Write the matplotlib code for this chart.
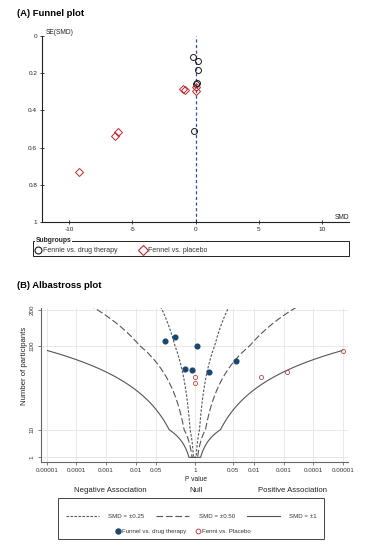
import numpy as np
import matplotlib
matplotlib.use('Agg')
import matplotlib.pyplot as plt
from matplotlib.lines import Line2D
from matplotlib.patches import Rectangle
from math import erfc, sqrt

plt.rcParams['font.family'] = ['Liberation Sans', 'DejaVu Sans']
plt.rcParams['axes.unicode_minus'] = False

W, H = 369, 550  # 像素尺寸

# ---- (A) funnel plot data ----
drug_smd = [-0.18, 0.21, 0.21, 0.13, 0.0, -0.13]
drug_se = [0.111, 0.134, 0.181, 0.254, 0.26, 0.509]
plac_smd = [-1.0, -0.85, 0.0, 0.05, -6.4, -6.1, -9.2]
plac_se = [0.285, 0.29, 0.276, 0.298, 0.536, 0.516, 0.733]
funnel_xticks = [-10, -5, 0, 5, 10]
funnel_yticks = [0, 0.2, 0.4, 0.6, 0.8, 1]
funnel_ylabels = ['0', '0.2', '0.4', '0.6', '0.8', '1']

# ---- (B) albatross plot data ----
drug_p = [0.10, 0.22, 0.87, 0.47, 0.83, 0.33, 0.042]
drug_side = [-1, -1, 1, -1, -1, 1, 1]
drug_n = [110, 119, 100, 52, 51, 48, 66]
plac_p = [0.98, 0.98, 0.006, 0.0008, 0.00001]
plac_side = [-1, -1, 1, 1, 1]
plac_n = [42, 36, 42, 48, 87]

contour_smd = [0.25, 0.5, 1.0]
contour_ls = [(0, (2.2, 1.4)), (0, (6, 2.5)), '-']
contour_lab = ['SMD = \u00b10.25', 'SMD = \u00b10.50', 'SMD = \u00b11']

p_ticks = [0.00001, 0.0001, 0.001, 0.01, 0.05, 1]
p_labels = ['0.00001', '0.0001', '0.001', '0.01', '0.05', '1']
n_ticks = [1, 10, 100, 200]

fig = plt.figure(figsize=(W / 100, H / 100), dpi=100)

# ================= (A) =================
ax1 = fig.add_axes([42 / W, 1 - 222 / H, 307 / W, 186 / H])
ax1.axvline(0, color='#2b4ea6', ls=(0, (2.5, 2)), lw=0.9, zorder=1)
ax1.plot(drug_smd, drug_se, 'o', ms=4.3, mfc='none', mec='#1a1a1a', mew=0.7, zorder=3)
ax1.plot(plac_smd, plac_se, 'D', ms=4.0, mfc='none', mec='#c0282d', mew=0.7, zorder=3)
ax1.set_xlim(-12.13, 12.13)
ax1.set_ylim(1, 0)
ax1.set_xticks(funnel_xticks)
ax1.set_yticks(funnel_yticks)
ax1.set_yticklabels(funnel_ylabels)
for s in ['top', 'right']:
    ax1.spines[s].set_visible(False)
for s in ['left', 'bottom']:
    ax1.spines[s].set_color('#222222')
    ax1.spines[s].set_linewidth(0.8)
ax1.tick_params(direction='inout', length=3, width=0.6, labelsize=4.6, colors='#222222', pad=2)
ax1.text(0.012, 1.0, 'SE(SMD)', transform=ax1.transAxes, fontsize=4.8, color='#222222',
         ha='left', va='bottom')
ax1.text(1.0, 0.005, 'SMD', transform=ax1.transAxes, fontsize=4.8, color='#222222',
         ha='right', va='bottom')
fig.text(17 / W, 1 - 13.5 / H, '(A) Funnel plot', fontsize=6.8, fontweight='bold',
         ha='left', va='center')

# legend box A
fig.add_artist(Rectangle((33.3 / W, 1 - 255.7 / H), (349 - 33.3) / W, 15 / H,
                         transform=fig.transFigure, fill=False, ec='#222222', lw=0.7))
fig.text(35.5 / W, 1 - 241 / H, 'Subgroups', fontsize=4.9, fontweight='bold', color='#222222',
         ha='left', va='center', bbox=dict(fc='white', ec='none', pad=0.3))
hA = [Line2D([], [], ls='none', marker='o', ms=5, mfc='none', mec='#1a1a1a', mew=0.8),
      Line2D([], [], ls='none', marker='D', ms=4.6, mfc='none', mec='#c0282d', mew=0.8)]
fig.legend(hA, ['Fennie vs. drug therapy', 'Fennel vs. placebo'], loc='center left',
           bbox_to_anchor=(35 / W, 1 - 250.5 / H), ncol=2, frameon=False, fontsize=5,
           handlelength=0.9, handletextpad=0.3, columnspacing=3.2, borderpad=0, borderaxespad=0,
           labelcolor='#333333')

# ================= (B) =================
_lk = [-1, 0, 1, 2, np.log10(200), 3]
_hv = [-27.6, 0, 27.6, 111.6, 147.6, 147.6 + 119.6 * (3 - np.log10(200))]


def fwd(n):
    n = np.maximum(np.asarray(n, dtype=float), 1e-3)
    return np.interp(np.log10(n), _lk, _hv)


def inv(h):
    return 10 ** np.interp(np.asarray(h, dtype=float), _hv, _lk)


ax2 = fig.add_axes([40.7 / W, 1 - 462 / H, 307.3 / W, 154 / H])
ax2.set_yscale('function', functions=(fwd, inv))

nn = np.geomspace(1, 260, 500)
for d, ls in zip(contour_smd, contour_ls):
    z = d * np.sqrt(nn) / np.sqrt(4 + d ** 2 / 2)
    pv = np.array([erfc(v / sqrt(2)) for v in z])
    xv = -np.log10(pv)
    keep = xv <= 5.0
    xs = np.concatenate([-xv[keep][::-1], xv[keep]])
    ys = np.concatenate([nn[keep][::-1], nn[keep]])
    ax2.plot(xs, ys, color='#555555', lw=0.8, ls=ls, zorder=2)

dx = [s * -np.log10(p) for s, p in zip(drug_side, drug_p)]
px_ = [s * -np.log10(p) for s, p in zip(plac_side, plac_p)]
ax2.plot(dx, drug_n, 'o', ms=3.4, color='#1a476f', zorder=4)
ax2.plot(px_, plac_n, 'o', ms=3.0, mfc='none', mec='#b8474a', mew=0.6, zorder=4)

xt = [np.log10(p) for p in p_ticks] + [-np.log10(p) for p in p_ticks[:-1][::-1]]
xl = p_labels + p_labels[:-1][::-1]
ax2.set_xticks(xt)
ax2.set_xticklabels(xl)
ax2.set_xlim(-5.2, 5.17)
ax2.set_ylim(0.68, 206)
ax2.set_yticks(n_ticks)
ax2.set_yticklabels([str(v) for v in n_ticks], rotation=90, va='center')
ax2.yaxis.set_minor_locator(matplotlib.ticker.NullLocator())
ax2.grid(True, color='#e4e4e4', lw=0.6, zorder=0)
ax2.set_axisbelow(True)
for s in ['top', 'right']:
    ax2.spines[s].set_visible(False)
for s in ['left', 'bottom']:
    ax2.spines[s].set_color('#666666')
    ax2.spines[s].set_linewidth(0.8)
ax2.tick_params(length=2.5, width=0.6, labelsize=4.5, colors='#333333', pad=2)
ax2.tick_params(axis='both', color='#666666')

fig.text(17 / W, 1 - 285 / H, '(B) Albastross plot', fontsize=6.8, fontweight='bold',
         ha='left', va='center')
fig.text(25 / W, 1 - 366 / H, 'Number of participants', rotation=90, fontsize=5.6,
         color='#222222', ha='center', va='center')
fig.text(196 / W, 1 - 479.5 / H, 'P value', fontsize=4.8, color='#222222', ha='center', va='center')
fig.text(110 / W, 1 - 490 / H, 'Negative Association', fontsize=5.6, color='#222222',
         ha='center', va='center')
fig.text(196 / W, 1 - 490 / H, 'Null', fontsize=5.6, color='#222222', ha='center', va='center')
fig.text(293 / W, 1 - 490 / H, 'Positive Association', fontsize=5.6, color='#222222',
         ha='center', va='center')

# legend box B
fig.add_artist(Rectangle((58.3 / W, 1 - 539 / H), (324.3 - 58.3) / W, (539 - 498.3) / H,
                         transform=fig.transFigure, fill=False, ec='#444444', lw=0.7))
hB1 = [Line2D([], [], color='#555555', lw=0.8, ls=ls) for ls in contour_ls]
fig.legend(hB1, contour_lab, loc='center', bbox_to_anchor=(191.3 / W, 1 - 516.7 / H), ncol=3,
           frameon=False, fontsize=4.4, handlelength=5.4, handletextpad=1.6, columnspacing=1.9,
           borderpad=0, borderaxespad=0, labelcolor='#333333')
hB2 = [Line2D([], [], ls='none', marker='o', ms=3.6, color='#1a476f'),
       Line2D([], [], ls='none', marker='o', ms=3.4, mfc='none', mec='#b8474a', mew=0.7)]
fig.legend(hB2, ['Funnel vs. drug therapy', 'Fenni vs. Placebo'], loc='center',
           bbox_to_anchor=(183 / W, 1 - 531.7 / H), ncol=2, frameon=False, fontsize=4.4,
           handlelength=0.8, handletextpad=0.3, columnspacing=1.4, borderpad=0, borderaxespad=0,
           labelcolor='#333333')

fig.savefig('out.png', dpi=100)
